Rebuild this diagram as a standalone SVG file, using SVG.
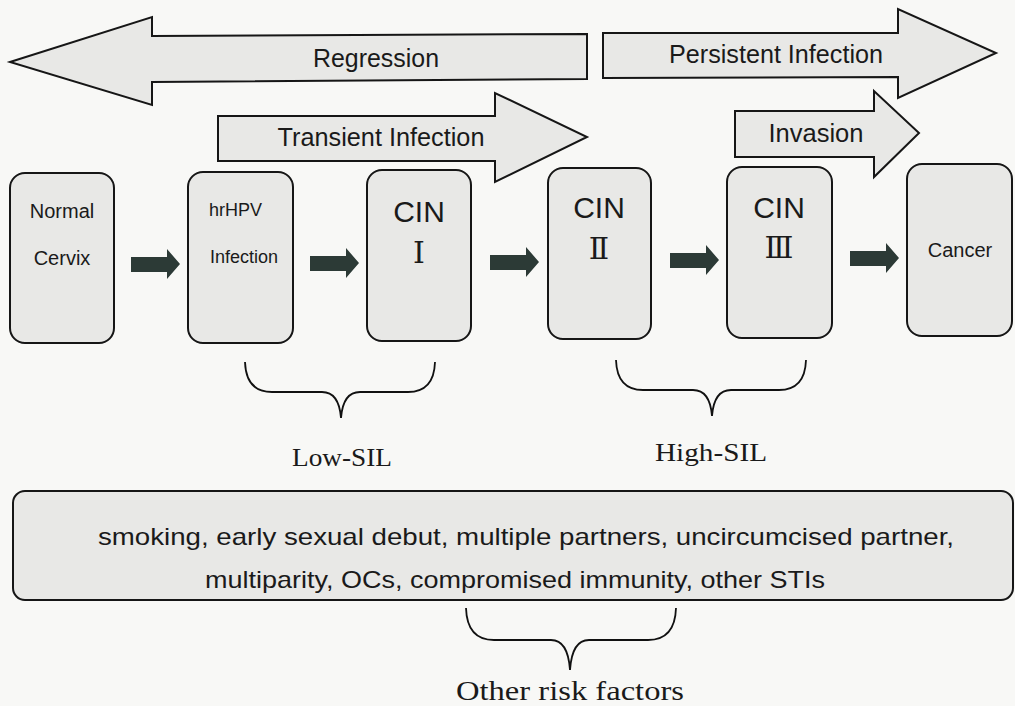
<svg xmlns="http://www.w3.org/2000/svg" width="1015" height="706" viewBox="0 0 1015 706">
<style>
.big{fill:#e8e8e6;stroke:#161616;stroke-width:2;stroke-linejoin:miter}
.node{fill:#e8e8e6;stroke:#161616;stroke-width:2}
.step{fill:#2c3a36}
.brace{fill:none;stroke:#111;stroke-width:1.8}
.sans{font-family:"Liberation Sans",Arial,sans-serif;fill:#1a1a1a}
.serif{font-family:"Liberation Serif","DejaVu Serif",serif;fill:#1a1a1a}
.lbl{font-size:25px;text-anchor:middle}
.nt{font-size:20px;text-anchor:middle}
.cin{font-size:30px;text-anchor:middle}
.rom{font-size:30px;text-anchor:middle}
</style>
<rect width="1015" height="706" fill="#f8f8f6"/>

<g id="regression">
<polygon class="big" points="10,62 152,17 152,36 587,34 587,79 152,82 152,105"/>
<text class="sans lbl" x="376" y="67" textLength="126" lengthAdjust="spacingAndGlyphs">Regression</text>
</g>
<g id="persistent-infection">
<polygon class="big" points="603,33 898,33 898,9 996,53 898,98 898,77 603,78"/>
<text class="sans lbl" x="776" y="63" textLength="214" lengthAdjust="spacingAndGlyphs">Persistent Infection</text>
</g>
<g id="transient-infection">
<polygon class="big" points="218,116 495,116 495,93 587,137 495,182 495,161 218,161"/>
<text class="sans lbl" x="381" y="146" textLength="207" lengthAdjust="spacingAndGlyphs">Transient Infection</text>
</g>
<g id="invasion">
<polygon class="big" points="735,111 874,111 874,91 919,133 874,177 874,157 735,157"/>
<text class="sans lbl" x="816" y="142" textLength="95" lengthAdjust="spacingAndGlyphs">Invasion</text>
</g>

<g id="normal-cervix">
<rect class="node" x="10" y="173" width="104" height="170" rx="15"/>
<text class="sans nt" x="62" y="218">Normal</text>
<text class="sans nt" x="62" y="265">Cervix</text>
</g>
<g id="hrhpv-infection">
<rect class="node" x="188" y="172" width="105" height="171" rx="15"/>
<text class="sans" font-size="18" x="209" y="216">hrHPV</text>
<text class="sans" font-size="18" x="210" y="263">Infection</text>
</g>
<g id="cin1">
<rect class="node" x="367" y="170" width="104" height="171" rx="15"/>
<text class="sans cin" x="419" y="222">CIN</text>
<text class="serif rom" x="419" y="263">Ⅰ</text>
</g>
<g id="cin2">
<rect class="node" x="548" y="168" width="103" height="171" rx="15"/>
<text class="sans cin" x="599" y="218">CIN</text>
<text class="serif rom" x="599" y="259">Ⅱ</text>
</g>
<g id="cin3">
<rect class="node" x="727" y="167" width="105" height="171" rx="15"/>
<text class="sans cin" x="779" y="218">CIN</text>
<text class="serif rom" x="779" y="258">Ⅲ</text>
</g>
<g id="cancer">
<rect class="node" x="907" y="164" width="105" height="172" rx="15"/>
<text class="sans nt" x="960" y="257">Cancer</text>
</g>

<g id="connectors">
<polygon class="step" points="131,257 167,257 167,249 180,264 167,279 167,272 131,272"/>
<polygon class="step" points="310,256 346,256 346,248 359,263 346,278 346,271 310,271"/>
<polygon class="step" points="490,255 526,255 526,247 539,262 526,277 526,270 490,270"/>
<polygon class="step" points="670,253 706,253 706,245 719,260 706,275 706,268 670,268"/>
<polygon class="step" points="850,251 886,251 886,243 899,258 886,273 886,266 850,266"/>
</g>

<g id="low-sil">
<path class="brace" d="M245,362 Q246,392 272,392 L322,392 Q339,392 341,418 Q343,392 360,392 L408,392 Q434,392 435,362"/>
<text class="serif" font-size="26" text-anchor="middle" x="342" y="466" textLength="100" lengthAdjust="spacingAndGlyphs">Low-SIL</text>
</g>
<g id="high-sil">
<path class="brace" d="M616,360 Q617,390 643,390 L693,390 Q710,390 712,416 Q714,390 731,390 L779,390 Q805,390 806,360"/>
<text class="serif" font-size="26" text-anchor="middle" x="711" y="461" textLength="112" lengthAdjust="spacingAndGlyphs">High-SIL</text>
</g>

<g id="risk-factors">
<rect class="node" x="13" y="491" width="1000" height="109" rx="12"/>
<text class="sans" font-size="24" text-anchor="middle" x="526" y="545" textLength="856" lengthAdjust="spacingAndGlyphs">smoking, early sexual debut, multiple partners, uncircumcised partner,</text>
<text class="sans" font-size="24" text-anchor="middle" x="515" y="588" textLength="620" lengthAdjust="spacingAndGlyphs">multiparity, OCs, compromised immunity, other STIs</text>
</g>
<g id="other-risk-factors">
<path class="brace" d="M466,608 Q467,640 494,640 L551,640 Q568,640 570,670 Q572,640 589,640 L648,640 Q675,640 676,608"/>
<text class="serif" font-size="27" text-anchor="middle" x="570" y="700" textLength="228" lengthAdjust="spacingAndGlyphs">Other risk factors</text>
</g>
</svg>
